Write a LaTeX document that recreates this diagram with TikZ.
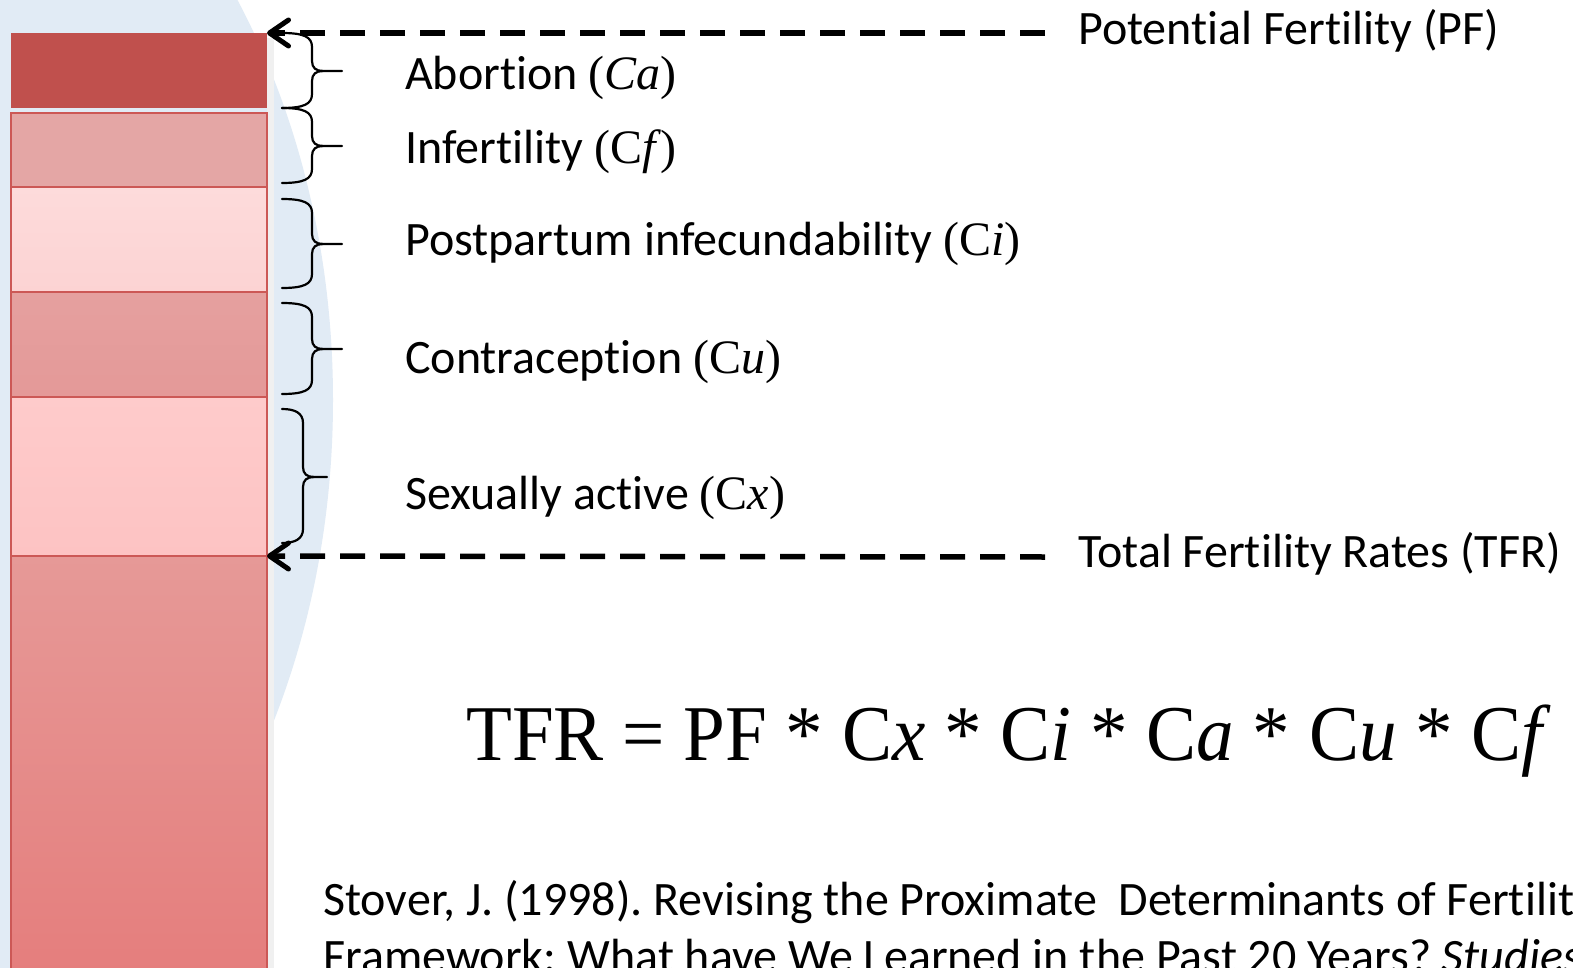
\documentclass[tikz,border=0pt]{standalone}
\usepackage{fontspec}
\setmainfont{Carlito}[Ligatures=NoCommon]
\newfontfamily\tnr{Liberation Serif}
\usetikzlibrary{arrows.meta}
\definecolor{wmblue}{RGB}{225,235,245}
\definecolor{segborder}{RGB}{204,88,86}
\definecolor{darkred}{RGB}{192,80,77}
\newcommand{\BraceShape}[5]{%
  \draw[bracestyle] (282,#1) .. controls ({#4-8},#1) and (#4,{#1+4}) .. (#4,{#1+14}) -- (#4,{#3-10})
     .. controls (#4,{#3-3}) and ({#4+4},#3) .. ({#4+11},#3) -- (#5,#3);
  \draw[bracestyle] ({#4+11},#3) .. controls ({#4+4},#3) and (#4,{#3+3}) .. (#4,{#3+10}) -- (#4,{#2-14})
     .. controls (#4,{#2-4}) and ({#4-8},#2) .. (282,#2);}
\tikzset{
  seg/.style={rectangle, inner sep=0pt, outer sep=0pt, minimum width=256pt, anchor=north west, draw=segborder, line width=1.5pt},
  lbl/.style={anchor=base west, inner sep=0pt, font=\fontsize{48}{56}\selectfont},
  cite/.style={anchor=base west, inner sep=0pt, font=\fontsize{48}{56}\selectfont},
  dasharrow/.style={line width=5.5pt, dash pattern=on 25pt off 15pt, -{Straight Barb[length=19pt,width=26pt,line width=5pt,round]}},
  bracestyle/.style={line width=2.2pt, line cap=round}
}
\frenchspacing
\begin{document}
\begin{tikzpicture}[x=1pt,y=-1pt]
\clip (0,0) rectangle (1573,968);
\fill[white] (0,0) rectangle (1573,968);
% watermark
\fill[wmblue] (-200,400) ellipse [x radius=533pt, y radius=700pt];
% shadow
\fill[black!6] (267,38) rectangle (274,968);
% bar segments
\node[seg, draw=none, fill=darkred, minimum height=75pt] (s1) at (11,33) {};
\node[seg, fill={rgb,255:red,228;green,166;blue,165}, minimum height=74pt] (s2) at (11,113) {};
\node[seg, top color={rgb,255:red,253;green,219;blue,219}, bottom color={rgb,255:red,252;green,211;blue,211}, minimum height=105pt] (s3) at (11,187) {};
\node[seg, top color={rgb,255:red,229;green,160;blue,159}, bottom color={rgb,255:red,228;green,153;blue,152}, minimum height=105pt] (s4) at (11,292) {};
\node[seg, top color={rgb,255:red,254;green,203;blue,203}, bottom color={rgb,255:red,253;green,195;blue,195}, minimum height=159pt] (s5) at (11,397) {};
\node[seg, top color={rgb,255:red,230;green,153;blue,151}, bottom color={rgb,255:red,229;green,126;blue,125}, minimum height=416pt] (s6) at (11,556) {};
% braces
\BraceShape{33}{108}{71}{312}{342}
\BraceShape{108}{183}{146}{312}{342}
\BraceShape{199}{288}{244}{312}{342}
\BraceShape{303}{394}{349}{312}{342}
\BraceShape{409}{543}{477}{303}{327}
% labels
\node[lbl] (ca) at (405,90) {Abortion {\tnr(\textit{Ca})}};
\node[lbl] (cf) at (405,164) {Infertility {\tnr(C\textit{f})}};
\node[lbl] (ci) at (405,256) {Postpartum infecundability {\tnr(C\textit{i})}};
\node[lbl] (cu) at (405,373) {Contraception {\tnr(C\textit{u})}};
\node[lbl] (cx) at (405,509) {Sexually active {\tnr(C\textit{x})}};
\node[lbl] (pf) at (1078,45) {Potential Fertility (PF)};
\node[lbl] (tfr) at (1078,567) {Total Fertility Rates (TFR)};
% dashed arrows
\coordinate (pfstart) at (1045,33);
\coordinate (tfrstart) at (1045,557);
\draw[dasharrow] (pfstart) -- (s1.north east);
\draw[dasharrow] (tfrstart) -- (s5.south east);
% equation
\node[anchor=base west, inner sep=0pt, font=\tnr\fontsize{79}{90}\selectfont, xscale=0.95] (eq) at (466,760)
  {TFR = PF * C\textit{x} * C\textit{i} * C\textit{a} * C\textit{u} * C\textit{f}};
% citation
\node[cite] (cit1) at (323,915) {Stover, J. (1998). Revising the Proximate\ \ Determinants of Fertility};
\node[cite] (cit2) at (323,972) {Framework: What have We Learned in the Past 20 Years? \textit{Studies}};
\end{tikzpicture}
\end{document}
